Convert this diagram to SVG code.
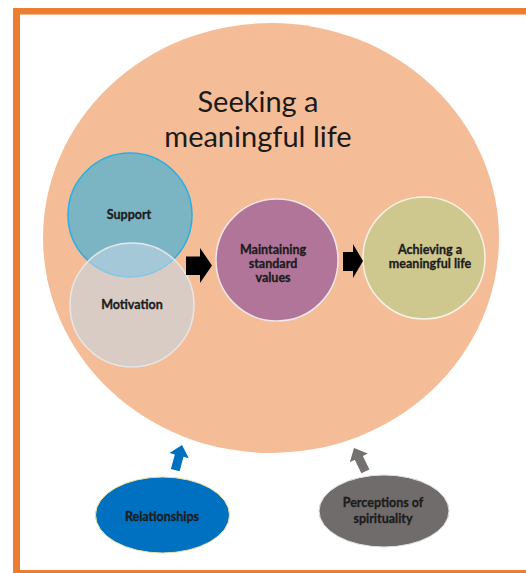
<svg xmlns="http://www.w3.org/2000/svg" width="526" height="573" viewBox="0 0 526 573">
<defs>
<style>
.title{font-family:Lato,"Liberation Sans",sans-serif;font-size:29px;fill:#1a1a1a;text-anchor:middle}
.lbl{font-family:Lato,"Liberation Sans",sans-serif;font-weight:bold;font-size:12.5px;fill:#1c1c1c;stroke:#1c1c1c;stroke-width:0.3;text-anchor:middle}
</style>
</defs>
<rect x="0" y="0" width="526" height="573" fill="#ffffff"/>
<g id="frame">
<rect x="13" y="8" width="513" height="6" fill="#ed7d31"/>
<rect x="13" y="14" width="513" height="1" fill="#f6b98d"/>
<rect x="13" y="8" width="7" height="565" fill="#ed7d31"/>
<rect x="13" y="570" width="513" height="3" fill="#ed7d31"/>
</g>
<g id="big-circle">
<ellipse cx="271" cy="238" rx="228" ry="215" fill="#f5bd97"/>
<text class="title" x="258" y="112">Seeking a</text>
<text class="title" x="258" y="147">meaningful life</text>
</g>
<g id="support">
<circle cx="130" cy="215" r="62" fill="#7bb4c3" stroke="#2aaee4" stroke-width="1.5"/>
<text class="lbl" x="129" y="219">Support</text>
</g>
<g id="motivation">
<circle cx="132" cy="305" r="62" fill="#c5d7e7" fill-opacity="0.58" stroke="#e6e6e6" stroke-width="1.5"/>
<text class="lbl" x="132" y="309">Motivation</text>
</g>
<g id="maintaining">
<circle cx="277" cy="260" r="61" fill="#b07598" stroke="#f0e6ea" stroke-width="1.5"/>
<text class="lbl" x="273" y="254">Maintaining</text>
<text class="lbl" x="273" y="268">standard</text>
<text class="lbl" x="273" y="282">values</text>
</g>
<g id="achieving">
<circle cx="424" cy="258" r="61" fill="#cec78e" stroke="#f5f2e6" stroke-width="1.5"/>
<text class="lbl" x="430" y="254">Achieving a</text>
<text class="lbl" x="430" y="268">meaningful life</text>
</g>
<g id="relationships">
<ellipse cx="162.5" cy="515" rx="67" ry="38" fill="#0070c0" stroke="#e8e2a0" stroke-width="1"/>
<text class="lbl" x="162" y="521">Relationships</text>
</g>
<g id="perceptions">
<ellipse cx="384" cy="511" rx="65" ry="36" fill="#706c6c" stroke="#e0e0e0" stroke-width="1"/>
<text class="lbl" x="383" y="507">Perceptions of</text>
<text class="lbl" x="383" y="523">spirituality</text>
</g>
<g id="connectors">
<polygon points="186,256.5 200,256.5 200,248 212,265.5 200,283 200,275 186,275" fill="#000000"/>
<polygon points="343,252 353,252 353,244 363,261 353,278 353,271 343,271" fill="#000000"/>
<polygon points="0,0 10,11 4.5,11 4.5,26 -4.5,26 -4.5,11 -10,11" fill="#0070c0" transform="translate(182,445) rotate(15)"/>
<polygon points="0,0 10,11 4.5,11 4.5,26 -4.5,26 -4.5,11 -10,11" fill="#767171" transform="translate(354,448) rotate(-26)"/>
</g>
</svg>
